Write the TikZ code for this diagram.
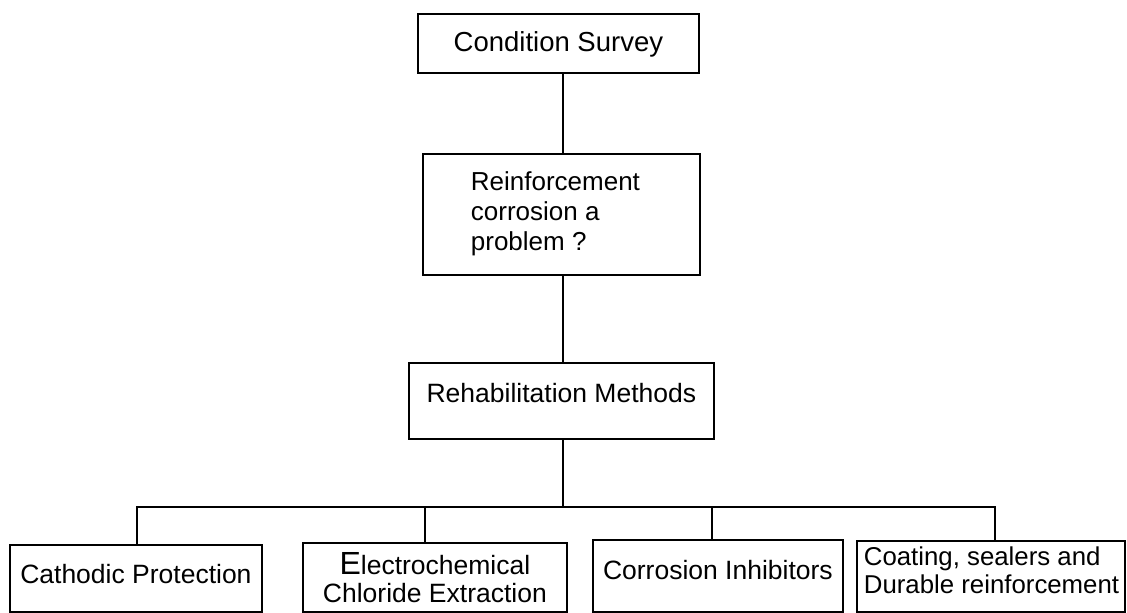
\documentclass[tikz,border=0pt]{standalone}
\usepackage{fontspec}
\setmainfont{Liberation Sans}

% Box body: width, height, first baseline below the top edge,
% font size, baselineskip, alignment commands, text (lines start with \strut)
\newcommand\cellbody[7]{%
  \parbox[c][#2][t]{#1}{%
    \fontsize{#4}{#5}\selectfont
    #6%
    \vspace*{\dimexpr#3-\ht\strutbox\relax}%
    #7}}

\tikzset{
  cell/.style={draw, rectangle, line width=1.8pt, inner sep=0pt, anchor=north west},
  link/.style={draw, line width=1.8pt},
}

\begin{document}
\begin{tikzpicture}[x=1pt, y=-1pt]
  \useasboundingbox (0,0) rectangle (1127,613);

  % upper chain
  \node[cell] (cond) at (417,13)
    {\cellbody{281pt}{59pt}{38pt}{27.5}{30}{\centering}{\strut Condition Survey}};
  \node[cell] (reinf) at (422,153)
    {\cellbody{277pt}{121pt}{37pt}{26}{30}{\raggedright\leftskip=48pt }%
      {\strut Reinforcement\\\strut corrosion a\\\strut problem ?}};
  \node[cell] (rehab) at (408,362)
    {\cellbody{305pt}{76pt}{40pt}{26.5}{30}{\centering}{\strut Rehabilitation Methods}};

  % methods
  \node[cell] (cp) at (9,544)
    {\cellbody{252pt}{67pt}{39pt}{26.5}{30}{\centering}{\strut Cathodic Protection}};
  \node[cell] (ecx) at (302,542)
    {\cellbody{264pt}{69pt}{32pt}{26.5}{28}{\centering}%
      {\strut\smash{\fontsize{32}{28}\selectfont E}lectrochemical\\\strut Chloride Extraction}};
  \node[cell] (ci) at (592,539)
    {\cellbody{250pt}{72pt}{40pt}{26.5}{30}{\centering}{\strut Corrosion Inhibitors}};
  \node[cell] (coat) at (856,540)
    {\cellbody{268pt}{71pt}{25pt}{25.8}{28}{\raggedright\leftskip=7pt }%
      {\strut Coating, sealers and\\\strut Durable reinforcement}};

  % trunk and distribution bus
  \coordinate (trunk) at (563,507);
  \coordinate (d1) at (137,507);
  \coordinate (d2) at (425,507);
  \coordinate (d3) at (712,507);
  \coordinate (d4) at (995,507);

  \draw[link] (cond.south -| trunk) -- (reinf.north -| trunk);
  \draw[link] (reinf.south -| trunk) -- (rehab.north -| trunk);
  \draw[link] (rehab.south -| trunk) -- (trunk);
  \draw[link] (cp.north -| d1) -- (d1) -- (d4) -- (coat.north -| d4);
  \draw[link] (d2) -- (ecx.north -| d2);
  \draw[link] (d3) -- (ci.north -| d3);
\end{tikzpicture}
\end{document}
